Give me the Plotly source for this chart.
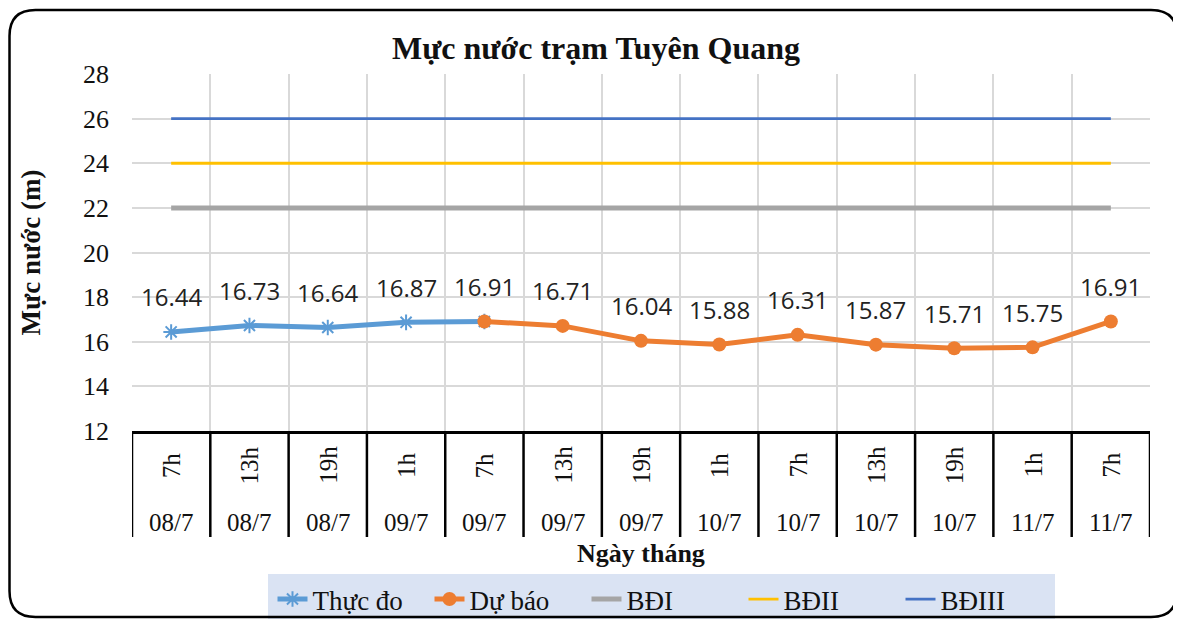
import plotly.graph_objects as go

hours = ["7h", "13h", "19h", "1h", "7h", "13h", "19h", "1h", "7h", "13h", "19h", "1h", "7h"]
dates = ["08/7", "08/7", "08/7", "09/7", "09/7", "09/7", "09/7", "10/7", "10/7", "10/7", "10/7", "11/7", "11/7"]
thuc_do = [16.44, 16.73, 16.64, 16.87, 16.91]
du_bao = [16.91, 16.71, 16.04, 15.88, 16.31, 15.87, 15.71, 15.75, 16.91]
bd1 = 22
bd2 = 24
bd3 = 26

n = len(hours)
x_all = list(range(n))
x_td = x_all[:len(thuc_do)]
x_db = x_all[n - len(du_bao):]

serif = "Liberation Serif"
sans = "Open Sans"
txt = "#111111"

# figure geometry (page is offset by 8px body margin)
W, H = 1173, 611
ML, MR, MT, MB = 124, 31, 66, 188
PW, PH = W - ML - MR, H - MT - MB

fig = go.Figure()
fig.add_trace(go.Scatter(x=x_td, y=thuc_do, mode="lines+markers", name="Thực đo",
                         line=dict(color="#5B9BD5", width=5),
                         marker=dict(symbol="asterisk-open", size=13, color="#5B9BD5",
                                     line=dict(color="#5B9BD5", width=2))))
fig.add_trace(go.Scatter(x=x_db, y=du_bao, mode="lines+markers", name="Dự báo",
                         line=dict(color="#ED7D31", width=5),
                         marker=dict(symbol="circle", size=14, color="#ED7D31")))
fig.add_trace(go.Scatter(x=x_all, y=[bd1] * n, mode="lines", name="BĐI",
                         line=dict(color="#A5A5A5", width=5)))
fig.add_trace(go.Scatter(x=x_all, y=[bd2] * n, mode="lines", name="BĐII",
                         line=dict(color="#FFC000", width=2.8)))
fig.add_trace(go.Scatter(x=x_all, y=[bd3] * n, mode="lines", name="BĐIII",
                         line=dict(color="#4472C4", width=2.8)))

annotations = []
# data labels
for xs, ys in ((x_td, thuc_do), (x_db[1:], du_bao[1:])):
    for xi, yi in zip(xs, ys):
        annotations.append(dict(x=xi, y=yi, xref="x", yref="y", text=f"{yi:.2f}",
                                showarrow=False, yshift=35, yanchor="middle",
                                font=dict(family=sans, size=24, color="#222222")))
# category axis labels
for i in range(n):
    annotations.append(dict(x=i, y=0, xref="x", yref="paper", yanchor="middle",
                            text=hours[i], showarrow=False, textangle=-90, yshift=-34,
                            font=dict(family=serif, size=25, color=txt)))
    annotations.append(dict(x=i, y=0, xref="x", yref="paper", yanchor="middle",
                            text=dates[i], showarrow=False, yshift=-91,
                            font=dict(family=serif, size=25, color=txt)))
annotations.append(dict(x=0.5, y=0, xref="paper", yref="paper", text="<b>Ngày tháng</b>",
                        showarrow=False, yshift=-122, yanchor="middle",
                        font=dict(family=serif, size=26, color=txt)))

# figure pixel coords -> paper coords
def tpx(v):
    return (v - ML) / PW
def tpy(v):
    return (H - MB - v) / PH

shapes = []
# category separators
for i in range(n + 1):
    shapes.append(dict(type="line", xref="x", yref="paper", x0=i - 0.5, x1=i - 0.5,
                       y0=0, y1=-106 / PH, line=dict(color="#000000", width=2.5)))
# legend background box
shapes.append(dict(type="rect", xref="paper", yref="paper",
                   x0=tpx(260), x1=tpx(1047), y0=tpy(566), y1=tpy(620),
                   fillcolor="#DAE3F3", line=dict(width=0), layer="below"))

# rounded outer border
r = 26
bx0, by0, bx1, by1 = 1.5, 2, 1169, 609
pts = [("M", bx0 + r, by0), ("L", bx1 - r, by0), ("Q", bx1, by0, bx1, by0 + r),
       ("L", bx1, by1 - r), ("Q", bx1, by1, bx1 - r, by1), ("L", bx0 + r, by1),
       ("Q", bx0, by1, bx0, by1 - r), ("L", bx0, by0 + r), ("Q", bx0, by0, bx0 + r, by0)]
segs = []
for p in pts:
    cmd, vals = p[0], p[1:]
    coords = []
    for k in range(0, len(vals), 2):
        coords.append(f"{tpx(vals[k]):.5f},{tpy(vals[k + 1]):.5f}")
    segs.append(cmd + " " + " ".join(coords))
path = " ".join(segs) + " Z"
shapes.append(dict(type="path", xref="paper", yref="paper", path=path,
                   line=dict(color="#000000", width=2.5), layer="above"))

fig.update_layout(
    width=W, height=H,
    margin=dict(l=ML, r=MR, t=MT, b=MB, autoexpand=False),
    paper_bgcolor="white", plot_bgcolor="white",
    title=dict(text="<b>Mực nước trạm Tuyên Quang</b>", x=588 / W, xanchor="center",
               y=1 - 40 / H, yanchor="middle",
               font=dict(family=serif, size=32, color=txt)),
    showlegend=True,
    legend=dict(orientation="h", x=tpx(657), xanchor="center",
                y=tpy(567), yanchor="top",
                bgcolor="rgba(0,0,0,0)", font=dict(family=serif, size=27, color=txt),
                entrywidth=112, entrywidthmode="pixels",
                tracegroupgap=0),
    annotations=annotations,
    shapes=shapes,
)

fig.update_xaxes(range=[-0.5, n - 0.5], tickmode="array",
                 tickvals=[i - 0.5 for i in range(n + 1)], ticktext=[""] * (n + 1),
                 showgrid=True, gridcolor="#D9D9D9", gridwidth=2,
                 showline=True, linecolor="#000000", linewidth=2.5,
                 zeroline=False, ticks="")
fig.update_yaxes(range=[12, 28], dtick=2, showgrid=True, gridcolor="#D9D9D9", gridwidth=2,
                 zeroline=False, showline=False, ticks="",
                 tickfont=dict(family=serif, size=26, color=txt),
                 ticklabelstandoff=22,
                 title=dict(text="<b>Mực nước (m)</b>", standoff=34,
                            font=dict(family=serif, size=27, color=txt)))

fig.write_html("out.html")
